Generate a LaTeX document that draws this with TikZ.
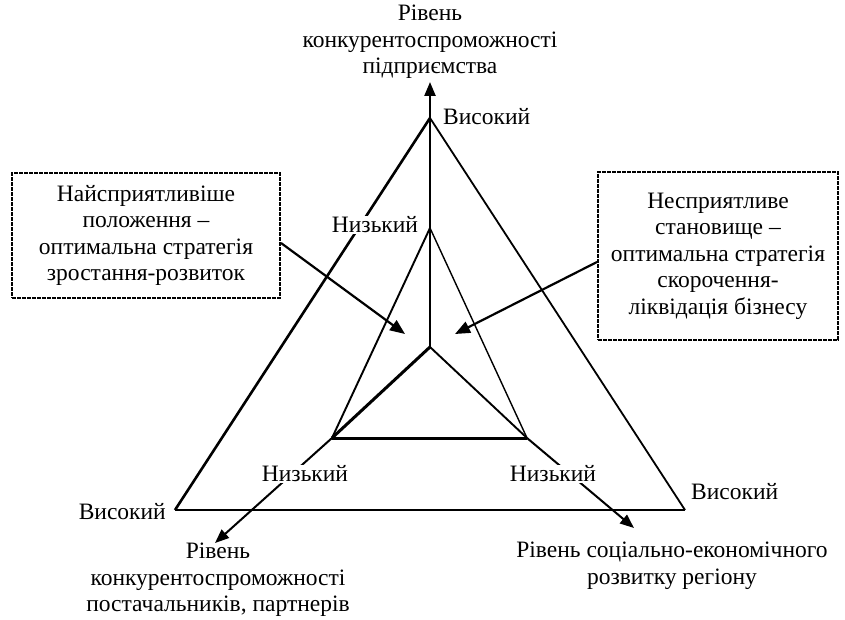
\documentclass[tikz,border=0pt]{standalone}
\usepackage{fontspec}
\setmainfont{Liberation Serif}
\usetikzlibrary{arrows.meta}
\begin{document}
\begin{tikzpicture}[x=1pt,y=-1pt,
  lbl/.style={font=\fontsize{23.5}{26.5}\selectfont, align=center, inner sep=1pt},
  wlbl/.style={lbl, fill=white},
  dbox/.style={draw, line width=2pt, dash pattern=on 4pt off 1pt, align=center,
    font=\fontsize{23.5}{26.5}\selectfont, inner sep=0pt},
  axis/.style={line width=2pt, -{Triangle[length=14pt,width=11pt]}},
  arr/.style={line width=2.2pt, -{Triangle[length=15pt,width=12pt]}}]
\useasboundingbox (0,0) rectangle (845,620);
% points
\coordinate (C) at (430,347);
\coordinate (OA) at (430,118);
\coordinate (OL) at (175,510);
\coordinate (OR) at (685,510);
\coordinate (IA) at (430,228);
\coordinate (IL) at (332,438);
\coordinate (IR) at (527,438);
\coordinate (TopEnd) at (430,82);
\coordinate (LEnd) at (215,543);
\coordinate (REnd) at (634,528);
% outer triangle
\draw[line width=2.6pt] (OA) -- (OL);
\draw[line width=1.8pt] (OA) -- (OR);
\draw[line width=2.2pt] (OL) -- (OR);
% inner triangle
\draw[line width=1.9pt] (IA) -- (IL);
\draw[line width=1.4pt] (IA) -- (IR);
\draw[line width=3pt] (IL) -- (IR);
% axes
\draw[axis, line width=2.4pt] (C) -- (TopEnd);
\draw[line width=3pt] (C) -- (IL);
\draw[line width=1.9pt] (C) -- (IR);
\draw[axis] (IL) -- (LEnd);
\draw[axis] (IR) -- (REnd);
% labels
\node[lbl] (top) at (430,42) {Рівень\\конкурентоспроможності\\підприємства};
\node[lbl, anchor=west] (vTop) at (442,117) {Високий};
\node[lbl, anchor=east] (vL) at (167,512) {Високий};
\node[lbl, anchor=west] (vR) at (690,492) {Високий};
\node[wlbl] (nTop) at (375,225) {Низький};
\node[wlbl] (nL) at (305,474) {Низький};
\node[wlbl] (nR) at (553,474) {Низький};
\node[lbl] (bl) at (218,580) {Рівень\\конкурентоспроможності\\постачальників, партнерів};
\node[lbl] (br) at (672,566) {Рівень соціально-економічного\\розвитку регіону};
% boxes
\node[dbox, minimum width=268pt, minimum height=125pt] (boxL) at (146,235.5)
  {Найсприятливіше\\положення –\\оптимальна стратегія\\зростання-розвиток};
\node[dbox, minimum width=240pt, minimum height=168pt] (boxR) at (718,256)
  {Несприятливе\\становище –\\оптимальна стратегія\\скорочення-\\ліквідація бізнесу};
\coordinate (aL) at (405,334);
\coordinate (aR) at (455,334);
\draw[arr] (boxL.east |- 0,243) -- (aL);
\draw[arr] (boxR.west |- 0,262) -- (aR);
\end{tikzpicture}
\end{document}
